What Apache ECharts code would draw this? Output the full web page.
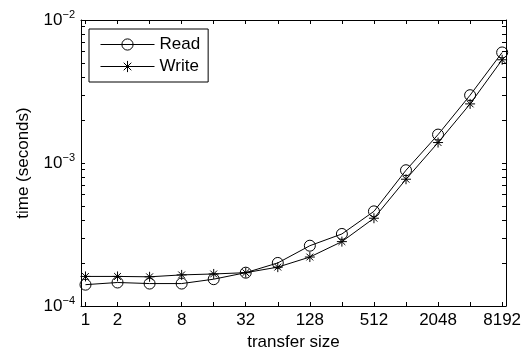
<!DOCTYPE html>
<html><head><meta charset="utf-8">
<script src="https://cdn.jsdelivr.net/npm/echarts@6/dist/echarts.min.js"></script>
<style>html,body{margin:0;padding:0;background:#fff}#c{width:528px;height:356px}</style>
</head><body><div id="c"></div>
<script>
// ---- data ----
const transferSizes = [1, 2, 4, 8, 16, 32, 64, 128, 256, 512, 1024, 2048, 4096, 8192];
const readTimes  = [1.41e-4, 1.46e-4, 1.435e-4, 1.435e-4, 1.54e-4, 1.71e-4, 2.00e-4, 2.64e-4, 3.19e-4, 4.59e-4, 8.9e-4, 1.58e-3, 2.98e-3, 5.93e-3];
const writeTimes = [1.61e-4, 1.61e-4, 1.60e-4, 1.65e-4, 1.675e-4, 1.71e-4, 1.87e-4, 2.20e-4, 2.82e-4, 4.11e-4, 7.7e-4, 1.39e-3, 2.59e-3, 5.27e-3];
const xTickLabels = ['1', '2', '8', '32', '128', '512', '2048', '8192'];
const yDecades = [1e-4, 1e-3, 1e-2];
const seriesNames = ['Read', 'Write'];

// ---- derived ----
const xTickValues = transferSizes.map(s => Math.log2(s));
const xLabelValues = xTickLabels.map(l => Math.log2(Number(l)));
const yTickValues = [];
for (let d = 0; d < yDecades.length; d++) {
  yTickValues.push(yDecades[d]);
  if (d < yDecades.length - 1) for (let m = 2; m <= 9; m++) yTickValues.push(+(m * yDecades[d]).toPrecision(3));
}
const readData = transferSizes.map((s, i) => [Math.log2(s), readTimes[i]]);
const writeData = transferSizes.map((s, i) => [Math.log2(s), writeTimes[i]]);

const FONT = 'Liberation Sans, Arial, Helvetica, sans-serif';
const FS = 17;
const starPath = 'path://M5,0L5,10M0,5L10,5M1.6,1.6L8.4,8.4M1.6,8.4L8.4,1.6';

const xMin = -0.14, xMax = 13.12;
const yMin = yDecades[0], yMax = yDecades[yDecades.length - 1];

const chart = echarts.init(document.getElementById('c'), null, {renderer: 'canvas'});
const baseX = {
  type: 'value', min: xMin, max: xMax,
  splitLine: {show: false},
  axisLine: {show: true, onZero: false, lineStyle: {color: '#000', width: 1}},
  axisTick: {show: true, inside: true, length: 4, customValues: xTickValues, lineStyle: {color: '#000'}},
};
const baseY = {
  type: 'log', logBase: 10, min: yMin, max: yMax,
  splitLine: {show: false},
  axisLine: {show: true, onZero: false, lineStyle: {color: '#000', width: 1}},
  axisTick: {show: true, inside: true, length: 4, customValues: yTickValues, lineStyle: {color: '#000'}},
};
chart.setOption({
  animation: false,
  backgroundColor: '#fff',
  textStyle: {fontFamily: FONT},
  grid: {left: 81, right: 22, top: 20, bottom: 48, containLabel: false},
  legend: {
    orient: 'vertical', left: 89, top: 29,
    data: seriesNames,
    itemWidth: 54, itemHeight: 14, itemGap: 5,
    padding: [7, 8, 7, 11],
    borderColor: '#000', borderWidth: 1, backgroundColor: '#fff',
    itemStyle: {borderWidth: 1},
    lineStyle: {width: 1},
    textStyle: {fontFamily: FONT, fontSize: FS, color: '#000', lineHeight: 16},
  },
  xAxis: [
    Object.assign({}, baseX, {
      position: 'bottom',
      name: 'transfer size', nameLocation: 'middle', nameGap: 28,
      nameTextStyle: {fontFamily: FONT, fontSize: FS, color: '#000'},
      axisLabel: {
        show: true, margin: 6, interval: 0, customValues: xLabelValues,
        fontFamily: FONT, fontSize: FS, color: '#000',
        formatter: v => String(Math.round(Math.pow(2, v)))
      }
    }),
    Object.assign({}, baseX, {position: 'top', axisLabel: {show: false}})
  ],
  yAxis: [
    Object.assign({}, baseY, {
      position: 'left',
      name: 'time (seconds)', nameLocation: 'middle', nameGap: 49, nameRotate: 90,
      nameTextStyle: {fontFamily: FONT, fontSize: FS, color: '#000'},
      axisLabel: {
        show: true, margin: 6, customValues: yDecades, showMinLabel: true, showMaxLabel: true,
        formatter: v => '{b|10}{s|\u2212' + Math.abs(Math.round(Math.log10(v))) + '}',
        rich: {
          b: {fontFamily: FONT, fontSize: FS, color: '#000', lineHeight: 22},
          s: {fontFamily: FONT, fontSize: 11, color: '#000', verticalAlign: 'top', lineHeight: 22}
        }
      }
    }),
    Object.assign({}, baseY, {position: 'right', axisLabel: {show: false}})
  ],
  series: [
    {
      name: seriesNames[0], type: 'line', data: readData, xAxisIndex: 0, yAxisIndex: 0,
      symbol: 'circle', symbolSize: 11,
      itemStyle: {color: 'rgba(0,0,0,0)', borderColor: '#000', borderWidth: 1},
      lineStyle: {color: '#000', width: 1},
      emphasis: {disabled: true}
    },
    {
      name: seriesNames[1], type: 'line', data: writeData, xAxisIndex: 0, yAxisIndex: 0,
      symbol: starPath, symbolSize: 10,
      itemStyle: {color: '#000', borderColor: '#000', borderWidth: 1},
      lineStyle: {color: '#000', width: 1},
      emphasis: {disabled: true}
    }
  ]
});
</script>
</body></html>
